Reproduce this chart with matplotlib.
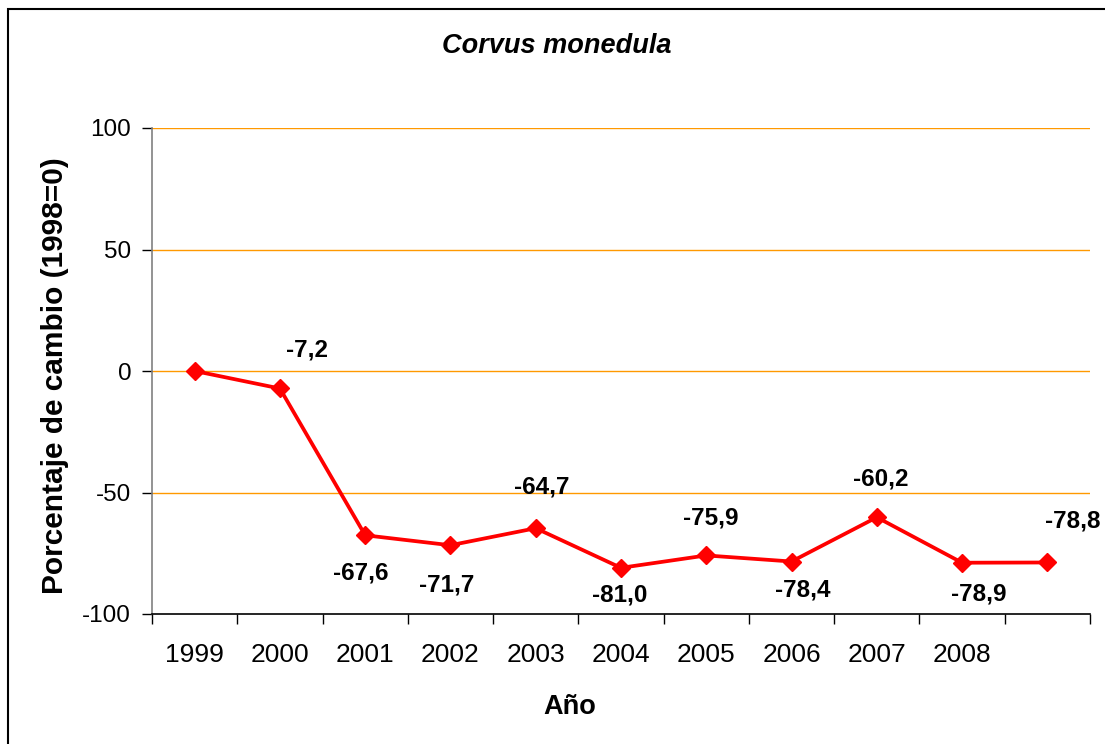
import matplotlib
matplotlib.use("Agg")
import matplotlib.pyplot as plt
from matplotlib.patches import Rectangle

plt.rcParams['font.family'] = ['Liberation Sans', 'DejaVu Sans']

years = ['1999', '2000', '2001', '2002', '2003', '2004', '2005', '2006', '2007', '2008', '']
values = [0.0, -7.2, -67.6, -71.7, -64.7, -81.0, -75.9, -78.4, -60.2, -78.9, -78.8]
labels = ['', '-7,2', '-67,6', '-71,7', '-64,7', '-81,0', '-75,9', '-78,4', '-60,2', '-78,9', '-78,8']
# label offsets in pixels (dx, dy up)
offsets = [(0, 0), (27, 38), (-4, -38), (-4, -40), (6, 41), (-1, -27),
           (4, 37), (11, -28), (4, 38), (17, -31), (25, 41)]

W, H = 1105, 744
fig = plt.figure(figsize=(W / 100, H / 100), dpi=100)
ax = fig.add_axes([152 / W, 1 - 614 / H, (1090 - 152) / W, (614 - 128) / H])

x = list(range(len(values)))
ax.plot(x, values, color='#FF0000', lw=2.7, marker='D', ms=9.5, mfc='#FF0000',
        mec='#FF0000', mew=1, zorder=3, clip_on=False)

for xi, v, lab, (dx, dy) in zip(x, values, labels, offsets):
    if lab:
        ax.annotate(lab, (xi, v), xytext=(dx * 0.72, dy * 0.72), textcoords='offset points',
                    ha='center', va='center', fontsize=17.5, fontweight='bold', color='black')

ax.set_xlim(-0.5, len(values) - 0.5)
ax.set_ylim(-100, 100)
ax.set_yticks([-100, -50, 0, 50, 100])
ax.set_yticklabels(['-100', '-50', '0', '50', '100'])
for yv in [0, 50, 100, -50]:
    ax.axhline(yv, color='#FF9900', lw=1.0, zorder=1)

ax.set_xticks(x)
ax.set_xticklabels(years, fontsize=19)
ax.set_xticks([i - 0.5 for i in range(len(values) + 1)], minor=True)
ax.tick_params(axis='x', which='major', length=0, pad=21)
ax.tick_params(axis='x', which='minor', length=7, width=1, color='black', direction='out')
ax.tick_params(axis='y', which='major', length=7, width=1, color='black', direction='out',
               labelsize=17.5, pad=8)

for s in ['top', 'right']:
    ax.spines[s].set_visible(False)
ax.spines['left'].set_color('#808080')
ax.spines['left'].set_linewidth(1.2)
ax.spines['bottom'].set_color('black')
ax.spines['bottom'].set_linewidth(1.2)

fig.text(557 / W, 1 - 46 / H, 'Corvus monedula', ha='center', va='center',
         fontsize=19.5, fontweight='bold', style='italic')
fig.text(570 / W, 1 - 707 / H, 'Año', ha='center', va='center',
         fontsize=19.5, fontweight='bold')
fig.text(55 / W, 1 - 376 / H, 'Porcentaje de cambio (1998=0)', ha='center', va='center',
         rotation=90, fontsize=21.5, fontweight='bold')

fig.patches.append(Rectangle((7.5 / W, -0.05), 1.1, 1 - 8.5 / H + 0.05,
                             transform=fig.transFigure, fill=False,
                             edgecolor='black', lw=1.5, zorder=10))

fig.savefig('out.png', dpi=100)
